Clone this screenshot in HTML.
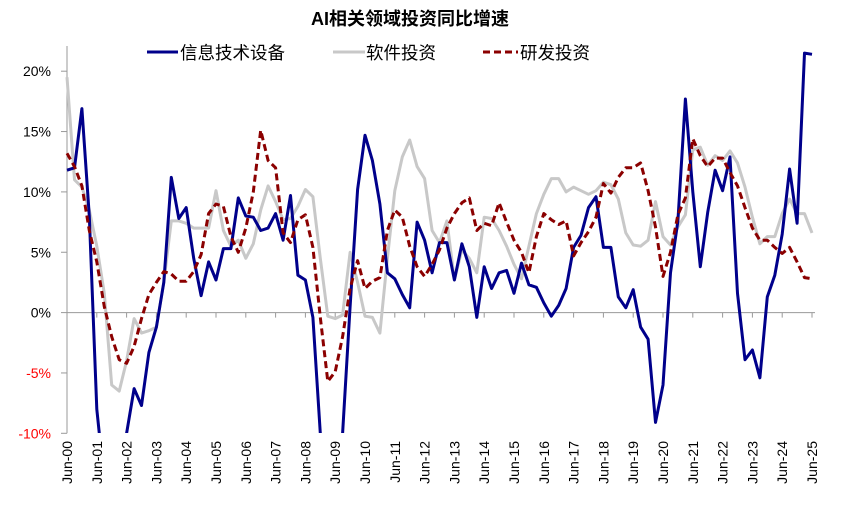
<!DOCTYPE html>
<html><head><meta charset="utf-8"><style>
html,body{margin:0;padding:0;background:#fff;width:841px;height:508px;overflow:hidden}
svg text{font-family:"Liberation Sans","Noto Sans CJK SC",sans-serif}
</style></head><body>
<svg id="chart" width="841" height="508" viewBox="0 0 841 508" xmlns="http://www.w3.org/2000/svg">
<text x="410" y="25" text-anchor="middle" font-size="18" font-weight="bold" fill="#000">AI相关领域投资同比增速</text>
<g>
 <g><line x1="147" y1="52" x2="178" y2="52" stroke="#00008B" stroke-width="3"/><text x="180" y="59" font-size="17.5">信息技术设备</text></g>
 <g><line x1="333" y1="52" x2="365" y2="52" stroke="#C8C8C8" stroke-width="3"/><text x="366" y="59" font-size="17.5">软件投资</text></g>
 <g><line x1="483" y1="52" x2="518" y2="52" stroke="#8B0000" stroke-width="3" stroke-dasharray="7,4"/><text x="520" y="59" font-size="17.5">研发投资</text></g>
</g>
<g id="axes"></g>
<g id="series" clip-path="url(#plotclip)"></g>
<defs><clipPath id="plotclip"><rect x="60" y="40" width="770" height="393"/></clipPath></defs>
</svg>
<script>
const yTicks = [20, 15, 10, 5, 0, -5, -10];
const xLabels = ["Jun-00","Jun-01","Jun-02","Jun-03","Jun-04","Jun-05","Jun-06","Jun-07","Jun-08","Jun-09","Jun-10","Jun-11","Jun-12","Jun-13","Jun-14","Jun-15","Jun-16","Jun-17","Jun-18","Jun-19","Jun-20","Jun-21","Jun-22","Jun-23","Jun-24","Jun-25"];
const itEquipment = [11.8,12.0,16.9,8,-8,-14,-15,-15,-10,-6.3,-7.7,-3.3,-1.2,2.5,11.2,7.8,8.7,4.5,1.4,4.2,2.7,5.3,5.3,9.5,8,7.9,6.8,7,8.2,6.0,9.7,3.1,2.7,-0.4,-10,-15,-15,-10,0.5,10.2,14.7,12.6,9.0,3.3,2.8,1.5,0.4,7.5,6.0,3.3,5.8,5.8,2.7,5.7,3.8,-0.4,3.8,2.0,3.3,3.5,1.6,4.1,2.3,2.1,0.8,-0.3,0.6,2.0,5.4,6.4,8.7,9.6,5.4,5.4,1.3,0.4,1.9,-1.2,-2.2,-9.1,-6.0,3.3,7.6,17.7,10,3.8,8.3,11.8,10.1,12.9,1.6,-3.9,-3.1,-5.4,1.3,3.1,6.5,11.9,7.4,21.5,21.4];
const software = [19.5,11,10.4,8.5,5.5,1.6,-6.0,-6.5,-4,-0.5,-1.7,-1.5,-1.2,2.5,7.6,7.6,7.4,7.0,7.0,7.0,10.1,6.8,5.5,6.0,4.5,5.7,8.5,10.5,9.2,7.7,7.8,8.8,10.2,9.6,4.5,-0.3,-0.5,-0.2,5.0,2.5,-0.3,-0.4,-1.7,4.5,10.1,12.9,14.3,12.1,11.1,6.8,5.8,7.6,2.7,5.2,4.5,3.3,7.9,7.8,6.8,5.5,4.0,2.8,5.5,8.2,9.8,11.1,11.1,10.0,10.4,10.1,9.8,10.1,10.8,10.6,9.4,6.6,5.6,5.5,6.0,9.2,6.3,5.6,7.1,8.1,13.5,13.7,12.2,13.0,12.6,13.4,12.4,10.4,7.9,5.7,6.3,6.3,8.2,9.4,8.2,8.2,6.6];
const rnd = [13.2,12.1,10.5,6.8,4.2,0.5,-2,-3.9,-4.2,-2.8,-0.5,1.5,2.5,3.4,3.2,2.6,2.6,3.4,4.8,8.2,9.0,8.8,6.3,5.0,7.0,10.0,15.1,12.6,12.0,6.6,5.8,7.7,8.1,5.4,-0.4,-5.7,-4.9,-2,2,4.3,2.0,2.6,2.9,6.8,8.5,7.9,5.5,3.8,3.0,4.0,5.2,7.0,8.2,9.1,9.5,6.8,7.4,7.2,9.1,7.5,6.0,5.0,3.3,6.3,8.2,7.7,7.3,7.6,4.7,5.8,6.7,7.9,10.7,9.9,11.2,12.0,12.0,12.4,10.1,7.1,3.0,5.0,8.1,9.5,14.4,13.0,12.1,12.8,12.8,11.6,10.5,8.7,7.0,6.0,6.0,5.4,4.9,5.4,4.2,2.9,2.8];

const NS = "http://www.w3.org/2000/svg";
const X0 = 67, X1 = 812, Y0 = 312.6, PPU = 12.07;
const nPts = itEquipment.length;
function xScale(i){ return X0 + (X1 - X0) * i / (nPts - 1); }
function yScale(v){ return Y0 - v * PPU; }
function mk(tag, attrs){ const e = document.createElementNS(NS, tag); for (const k in attrs) e.setAttribute(k, attrs[k]); return e; }

const axes = document.getElementById('axes');
const yAxis = mk('line', {x1:X0, y1:46, x2:X0, y2:yScale(-10), stroke:'#999', 'stroke-width':1});


axes.appendChild(yAxis);
yTicks.forEach(t => {
  const y = yScale(t);
  const tk = mk('line', {x1:X0-6, y1:y, x2:X0, y2:y, stroke:'#999', 'stroke-width':1});
  
  
  axes.appendChild(tk);
  const lb = mk('text', {x:51, y:y+5, 'text-anchor':'end', 'font-size':'14', fill: t < 0 ? '#FF0000' : '#000'});
  lb.textContent = t + '%';
  
  
  axes.appendChild(lb);
});
const xAxis = mk('line', {x1:X0, y1:Y0, x2:X1+3, y2:Y0, stroke:'#999', 'stroke-width':1});


axes.appendChild(xAxis);
xLabels.forEach((l, k) => {
  const x = xScale(k * 4);
  const tk = mk('line', {x1:x, y1:Y0, x2:x, y2:Y0+5, stroke:'#999', 'stroke-width':1});
  
  
  axes.appendChild(tk);
  const lb = mk('text', {x:0, y:0, 'text-anchor':'end', 'font-size':'14', fill:'#000', transform:`translate(${x+5},441) rotate(-90)`});
  lb.textContent = l;
  
  
  axes.appendChild(lb);
});

const series = document.getElementById('series');
function drawLine(vals, color, dash, name){
  const d = vals.map((v, i) => (i ? 'L' : 'M') + xScale(i).toFixed(1) + ',' + yScale(v).toFixed(1)).join(' ');
  const p = mk('path', {d:d, fill:'none', stroke:color, 'stroke-width':3, 'stroke-linejoin':'round'});
  if (dash) p.setAttribute('stroke-dasharray', dash);
  
  
  series.appendChild(p);
}
drawLine(software, '#C8C8C8', null, 'software-line');
drawLine(itEquipment, '#00008B', null, 'it-equipment-line');
drawLine(rnd, '#8B0000', '7,4', 'rnd-line');
</script>
</body></html>
